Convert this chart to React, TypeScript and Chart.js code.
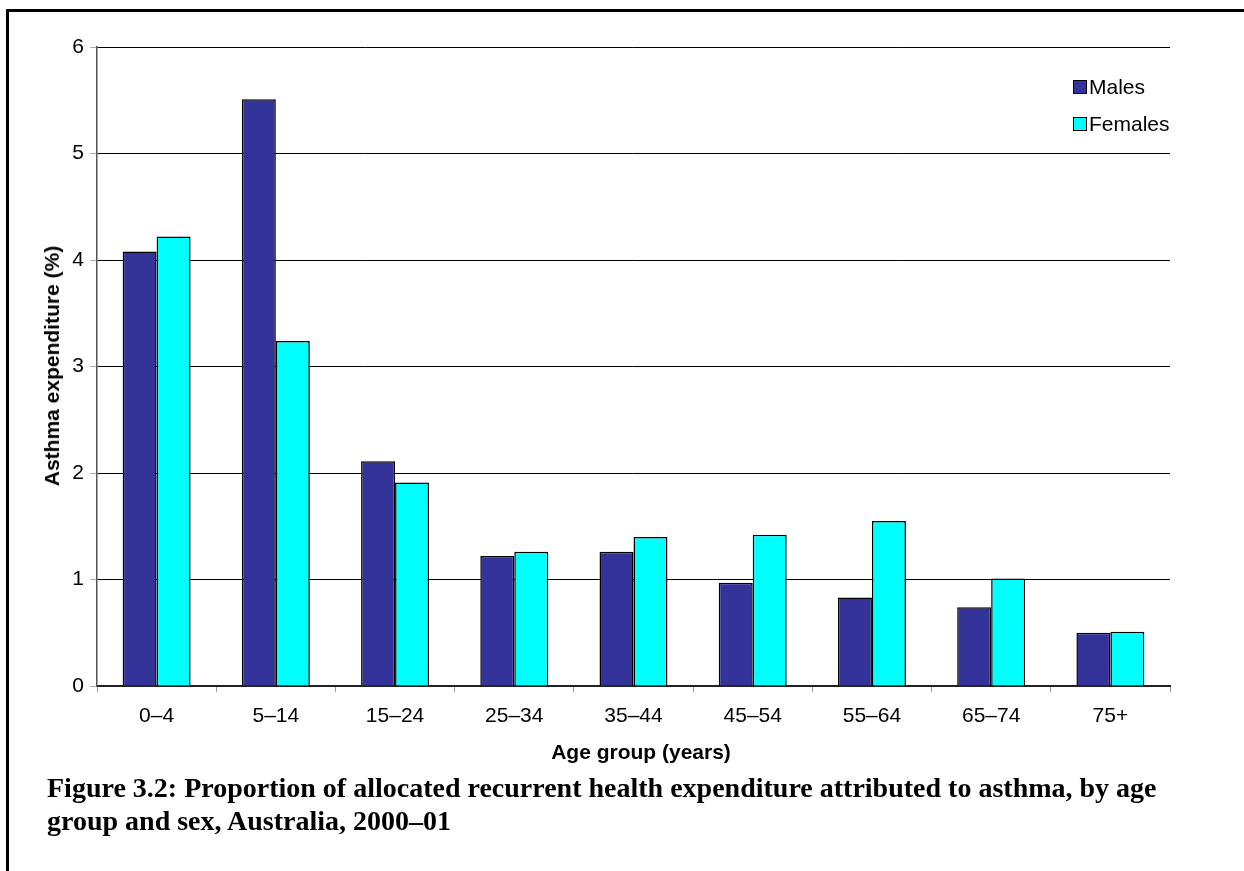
import React, { useEffect, useRef } from "react";
import { Chart, registerables } from "chart.js";

Chart.register(...registerables);

const categories = ["0–4", "5–14", "15–24", "25–34", "35–44", "45–54", "55–64", "65–74", "75+"];
const males = [4.08, 5.51, 2.11, 1.22, 1.26, 0.97, 0.83, 0.74, 0.5];
const females = [4.22, 3.24, 1.91, 1.26, 1.4, 1.42, 1.55, 1.01, 0.51];
const yTicks = [0, 1, 2, 3, 4, 5, 6];
const seriesNames = ["Males", "Females"];
const seriesColors = ["#333399", "#00FFFF"];

const SANS = "'Liberation Sans', Arial, sans-serif";

export default function App() {
  const ref = useRef<HTMLCanvasElement | null>(null);

  useEffect(() => {
    if (!ref.current) return;
    const chart = new Chart(ref.current, {
      type: "bar",
      data: {
        labels: categories,
        datasets: [
          {
            label: seriesNames[0],
            data: males,
            backgroundColor: seriesColors[0],
            borderColor: "#000",
            borderWidth: 1.5,
            categoryPercentage: 0.57,
            barPercentage: 1.0,
          },
          {
            label: seriesNames[1],
            data: females,
            backgroundColor: seriesColors[1],
            borderColor: "#000",
            borderWidth: 1.5,
            categoryPercentage: 0.57,
            barPercentage: 1.0,
          },
        ],
      },
      options: {
        responsive: false,
        animation: false,
        devicePixelRatio: 1,
        layout: { padding: { left: 0, top: 47, right: 74, bottom: 0 } },
        plugins: {
          legend: { display: false },
          tooltip: { enabled: false },
        },
        scales: {
          x: {
            grid: {
              display: true,
              drawOnChartArea: false,
              drawTicks: true,
              tickLength: 6,
              tickColor: "#999",
              offset: true,
            },
            border: { display: true, color: "#222", width: 2 },
            ticks: {
              color: "#000",
              font: { family: SANS, size: 21 },
              padding: 12,
              maxRotation: 0,
            },
            afterFit: (s: any) => {
              s.height = 185;
            },
          },
          y: {
            min: 0,
            max: 6,
            afterBuildTicks: (s: any) => {
              s.ticks = yTicks.map((v) => ({ value: v }));
            },
            grid: {
              color: "#000",
              lineWidth: 1,
              drawTicks: true,
              tickLength: 7,
              tickColor: "#aaa",
            },
            border: { display: true, color: "#555", width: 1.5 },
            ticks: {
              color: "#000",
              font: { family: SANS, size: 21 },
              padding: 6,
            },
            afterFit: (s: any) => {
              s.width = 97;
            },
          },
        },
      },
    });
    return () => chart.destroy();
  }, []);

  const abs: React.CSSProperties = { position: "absolute" };

  return (
    <div style={{ ...abs, left: 0, top: 0, width: 1244, height: 871, background: "#fff", overflow: "hidden" }}>
      <canvas ref={ref} width={1244} height={871} style={{ ...abs, left: 0, top: 0, width: 1244, height: 871 }} />
      {/* frame lines */}
      <div style={{ ...abs, left: 6, top: 9, width: 1238, height: 2.5, background: "#000" }} />
      <div style={{ ...abs, left: 6, top: 9, width: 2.5, height: 862, background: "#000" }} />
      {/* y axis title */}
      <div
        style={{
          ...abs,
          left: 52,
          top: 366,
          transform: "translate(-50%, -50%) rotate(-90deg)",
          whiteSpace: "nowrap",
          fontFamily: SANS,
          fontWeight: "bold",
          fontSize: 21,
          color: "#000",
        }}
      >
        Asthma expenditure (%)
      </div>
      {/* x axis title */}
      <div
        style={{
          ...abs,
          left: 641,
          top: 752,
          transform: "translate(-50%, -50%)",
          whiteSpace: "nowrap",
          fontFamily: SANS,
          fontWeight: "bold",
          fontSize: 21,
          color: "#000",
        }}
      >
        Age group (years)
      </div>
      {/* legend */}
      {seriesNames.map((n, i) => (
        <div key={n} style={{ ...abs, left: 1073, top: 78 + i * 37, height: 17, display: "flex", alignItems: "center" }}>
          <div style={{ width: 12, height: 12, background: seriesColors[i], border: "1.5px solid #000" }} />
          <div style={{ marginLeft: 2, fontFamily: SANS, fontSize: 21, color: "#000", lineHeight: "17px" }}>{n}</div>
        </div>
      ))}
      {/* caption */}
      <div
        style={{
          ...abs,
          left: 47,
          top: 771,
          width: 1190,
          fontFamily: "'Liberation Serif', 'DejaVu Serif', serif",
          fontWeight: "bold",
          fontSize: 28,
          lineHeight: "33px",
          color: "#000",
          whiteSpace: "nowrap",
        }}
      >
        Figure 3.2: Proportion of allocated recurrent health expenditure attributed to asthma, by age
        <br />
        group and sex, Australia, 2000–01
      </div>
    </div>
  );
}
